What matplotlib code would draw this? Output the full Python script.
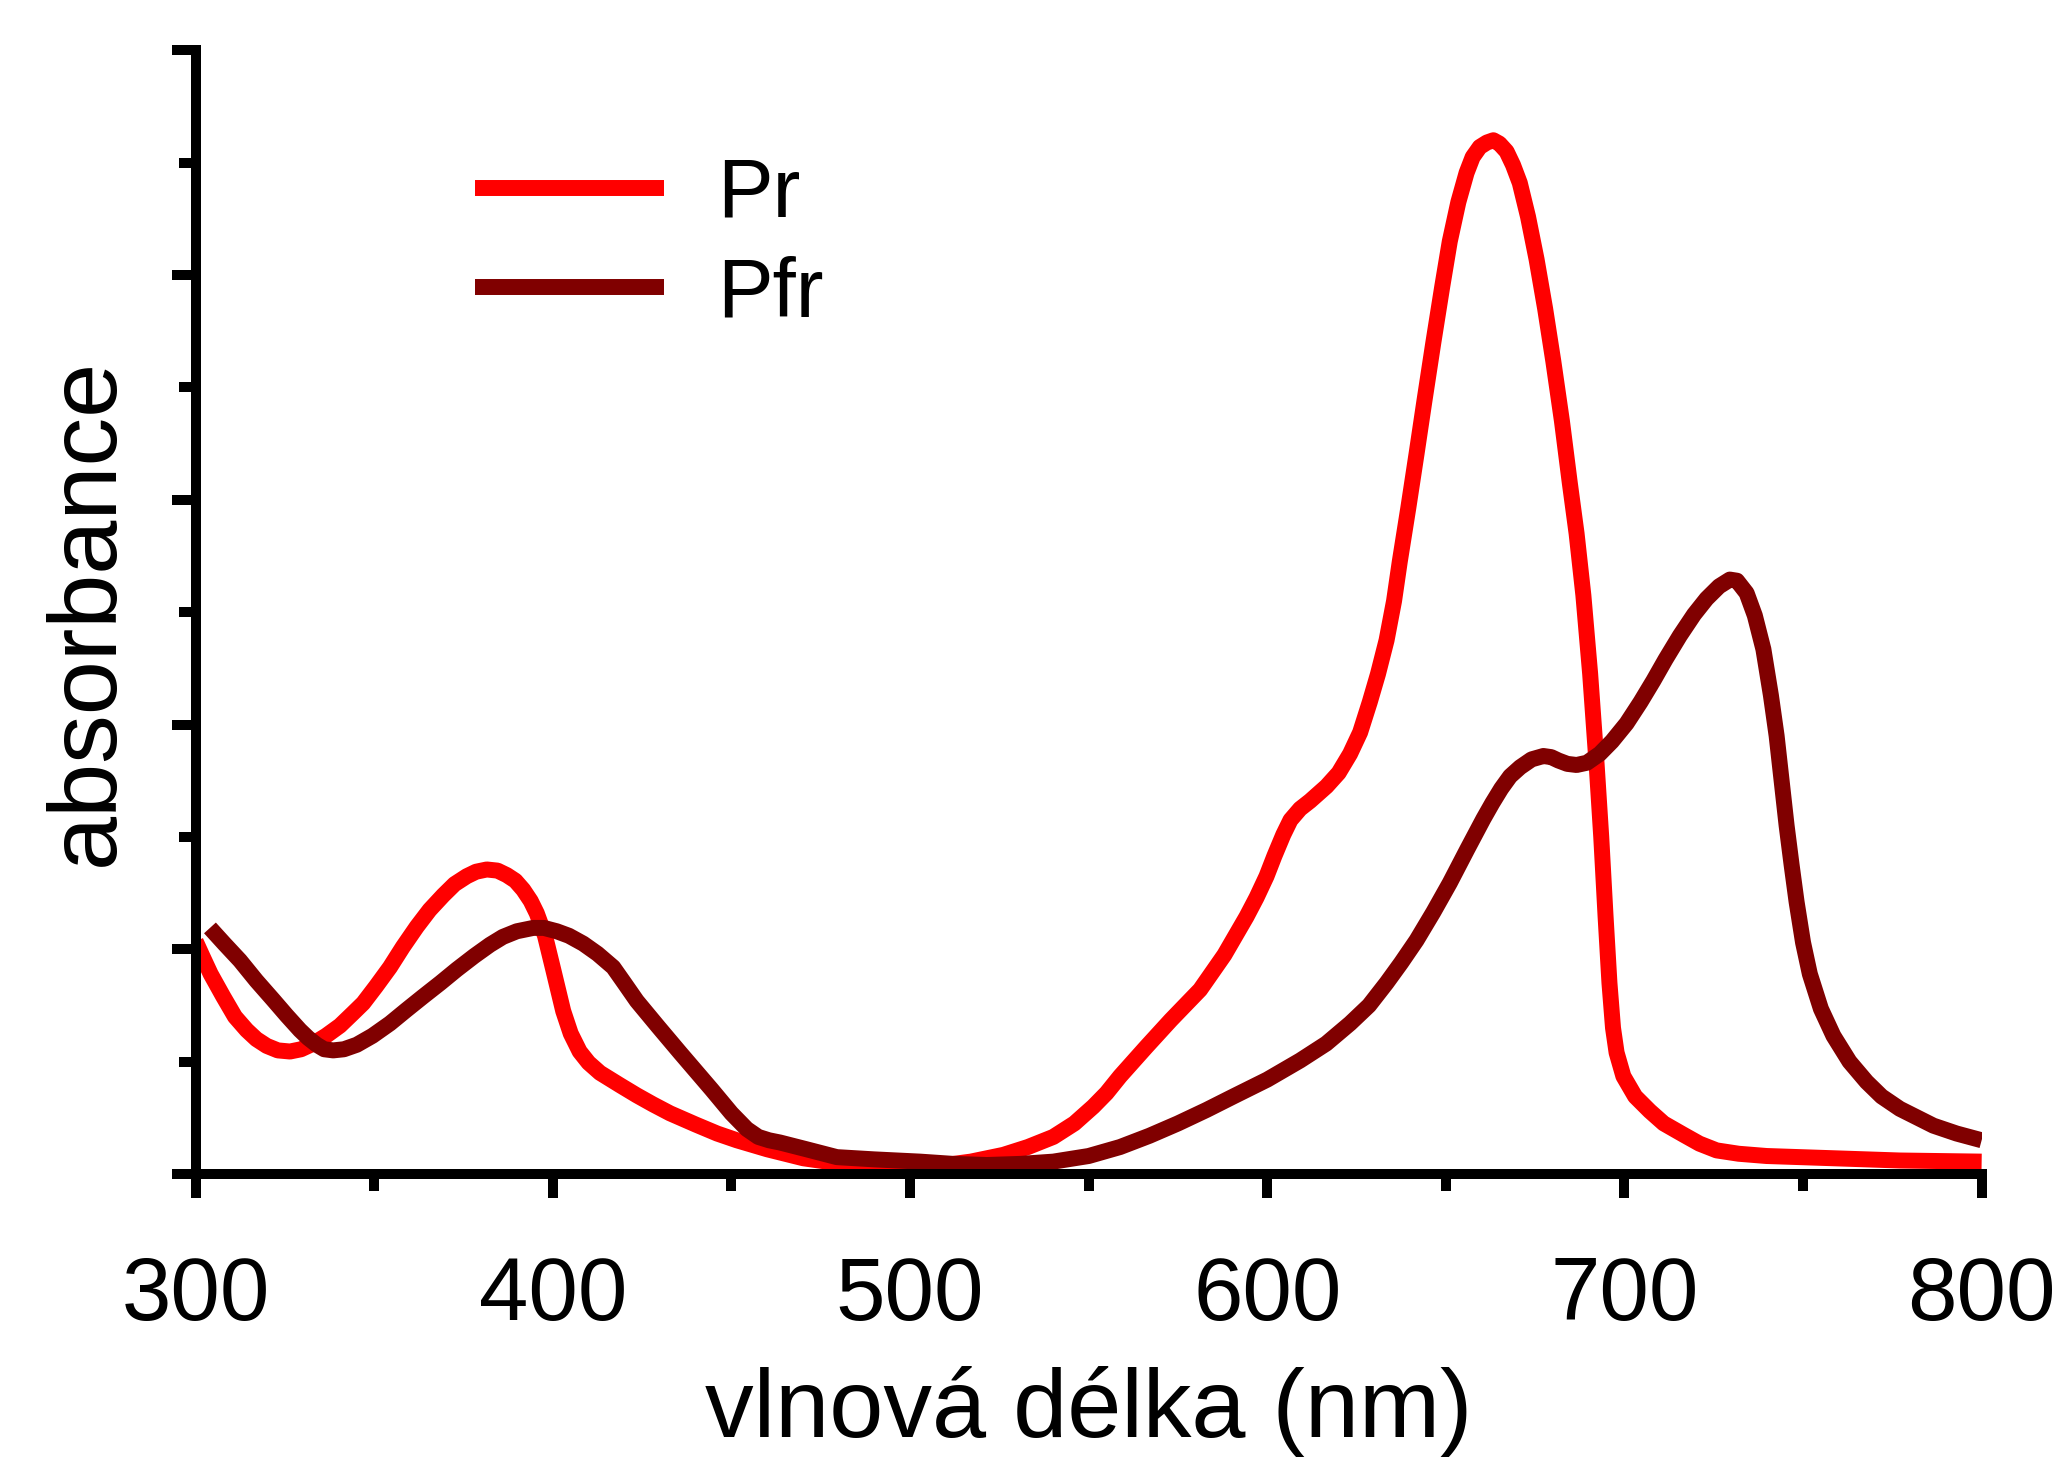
import numpy as np
import matplotlib
matplotlib.use("Agg")
import matplotlib.pyplot as plt
from matplotlib.ticker import MultipleLocator

plt.rcParams['font.family'] = ['Liberation Sans', 'DejaVu Sans']

# Pr spectrum (wavelength in nm, absorbance in arbitrary units)
pr_nm = [300, 302, 304.2, 307.7, 311, 314.3, 317, 319.9, 323, 326.4,
         329.5, 332.9, 336.5, 340.4, 344, 346.9, 350.5, 354.4, 358, 361.9,
         365.5, 369.3, 372.5, 375.9, 378.5, 381.5, 384.5, 387.1, 389.5, 391.7,
         393.8, 395.5, 397.8, 400.1, 402.9, 405, 407.5, 410, 413.2, 418.8,
         423.5, 428, 432.8, 440, 446, 451.5, 460, 470.1, 480, 488.8,
         497, 507.5, 517, 526.1, 533, 540.1, 546, 551.3, 555, 558.8,
         566.1, 573, 581.2, 588, 594.2, 597, 599.8, 602, 604.5, 606.5,
         609.2, 612, 616.6, 620, 623.2, 626, 628.7, 631, 633.4, 635.5,
         637.1, 639.5, 641.8, 644, 646.5, 649, 651.1, 653.5, 655.8, 657.5,
         659.5, 661.5, 663.3, 665, 667.0, 668.8, 670.7, 673, 675.4, 677.8,
         680.1, 682.5, 684.7, 686.6, 688.5, 690.4, 692.2, 693.5, 694.7, 695.8,
         696.8, 697.8, 699.7, 703.0, 707.1, 711, 716.5, 721, 725.8, 732,
         739.8, 758.5, 777.1, 800]
pr_abs = [2.07, 1.93, 1.78, 1.58, 1.40, 1.28, 1.20, 1.14, 1.10, 1.09,
          1.11, 1.16, 1.23, 1.32, 1.43, 1.52, 1.67, 1.84, 2.02, 2.20,
          2.35, 2.48, 2.58, 2.65, 2.69, 2.71, 2.70, 2.66, 2.61, 2.53,
          2.43, 2.32, 2.12, 1.82, 1.45, 1.25, 1.09, 0.99, 0.90, 0.79,
          0.70, 0.62, 0.54, 0.44, 0.36, 0.30, 0.22, 0.14, 0.095, 0.07,
          0.06, 0.07, 0.11, 0.17, 0.24, 0.33, 0.45, 0.60, 0.72, 0.87,
          1.13, 1.37, 1.64, 1.95, 2.29, 2.46, 2.65, 2.83, 3.02, 3.15,
          3.25, 3.32, 3.45, 3.57, 3.74, 3.93, 4.20, 4.45, 4.75, 5.10,
          5.45, 5.93, 6.41, 6.88, 7.40, 7.90, 8.30, 8.65, 8.91, 9.05,
          9.14, 9.18, 9.20, 9.17, 9.10, 8.98, 8.82, 8.52, 8.14, 7.70,
          7.23, 6.70, 6.15, 5.70, 5.15, 4.45, 3.65, 3.00, 2.30, 1.70,
          1.30, 1.08, 0.87, 0.69, 0.56, 0.45, 0.35, 0.27, 0.21, 0.18,
          0.16, 0.14, 0.12, 0.11]

# Pfr spectrum
pfr_nm = [304, 308, 312.4, 317, 321.7, 325.5, 329.2, 331.5, 333.9, 336,
          338.5, 341.5, 345.1, 349.5, 354.4, 359, 363.7, 368.5, 373.1, 378,
          382.4, 386, 389.9, 394.5, 397.5, 401.1, 404.5, 408.5, 412.5, 416.9,
          420, 423.5, 429.5, 435.6, 444.5, 450, 454.3, 457.5, 460.5, 463.6,
          471, 479.5, 490, 502.8, 512, 521.5, 531, 540.1, 550, 558.8,
          567, 575, 583, 590.5, 600, 609.2, 616.5, 623.2, 628.5, 633.4,
          637.5, 641.8, 646.5, 651.1, 656, 660.5, 663, 665.5, 668, 670.8,
          674, 677.3, 679.5, 681.5, 684, 686.6, 689.5, 693.1, 696.5, 700.6,
          704.5, 708.1, 711.5, 715.5, 719.5, 723.0, 726.5, 729.5, 731.5, 734.2,
          736.5, 738.9, 741, 742.6, 744, 745.4, 746.8, 748.2, 750, 751.9,
          755, 758.5, 763, 767.8, 772, 777.1, 786.5, 793, 800]
pfr_abs = [2.19, 2.05, 1.90, 1.72, 1.55, 1.41, 1.28, 1.21, 1.15, 1.11,
           1.10, 1.11, 1.15, 1.23, 1.34, 1.46, 1.58, 1.70, 1.82, 1.94,
           2.04, 2.11, 2.16, 2.19, 2.19, 2.16, 2.12, 2.05, 1.96, 1.84,
           1.70, 1.54, 1.31, 1.08, 0.75, 0.54, 0.40, 0.33, 0.30, 0.28,
           0.22, 0.15, 0.13, 0.11, 0.09, 0.08, 0.09, 0.11, 0.16, 0.24,
           0.34, 0.45, 0.57, 0.69, 0.84, 1.01, 1.16, 1.34, 1.50, 1.70,
           1.88, 2.08, 2.33, 2.59, 2.89, 3.16, 3.30, 3.43, 3.54, 3.62,
           3.69, 3.72, 3.71, 3.68, 3.65, 3.64, 3.66, 3.74, 3.85, 4.01,
           4.20, 4.39, 4.58, 4.79, 4.98, 5.12, 5.23, 5.29, 5.28, 5.17,
           4.97, 4.67, 4.26, 3.90, 3.50, 3.10, 2.75, 2.42, 2.06, 1.78,
           1.47, 1.23, 1.00, 0.82, 0.69, 0.58, 0.43, 0.36, 0.30]

labels = ['Pr', 'Pfr']
colors = ['#ff0000', '#800000']

fig = plt.figure(figsize=(20.64, 14.6), dpi=100)
ax = fig.add_axes([0.0948, 0.1959, 0.8653, 0.7696])

ax.plot(pr_nm, pr_abs, color=colors[0], lw=11.5, solid_capstyle='butt',
        solid_joinstyle='round', label=labels[0])
ax.plot(pfr_nm, pfr_abs, color=colors[1], lw=11.5, solid_capstyle='butt',
        solid_joinstyle='round', label=labels[1])

ax.set_xlim(300, 800)
ax.set_ylim(0, 10)

for side in ['top', 'right']:
    ax.spines[side].set_visible(False)
for side in ['left', 'bottom']:
    ax.spines[side].set_linewidth(7.2)

ax.xaxis.set_major_locator(MultipleLocator(100))
ax.xaxis.set_minor_locator(MultipleLocator(50))
ax.yaxis.set_major_locator(MultipleLocator(2))
ax.yaxis.set_minor_locator(MultipleLocator(1))
ax.tick_params(axis='both', which='major', direction='out', length=17,
               width=7.2, labelsize=64, pad=41)
ax.tick_params(axis='both', which='minor', direction='out', length=12,
               width=7.2)
ax.tick_params(axis='y', which='both', labelleft=False)

ax.set_xlabel('vlnová délka (nm)', fontsize=70, labelpad=20)
ax.set_ylabel('absorbance', fontsize=70, labelpad=28)

ax.legend(loc='upper left', bbox_to_anchor=(0.1564, 0.906), frameon=False,
          fontsize=60, handlelength=2.27, handletextpad=0.64,
          labelspacing=0.255, borderpad=0, borderaxespad=0)

fig.savefig('out.png', dpi=100)
